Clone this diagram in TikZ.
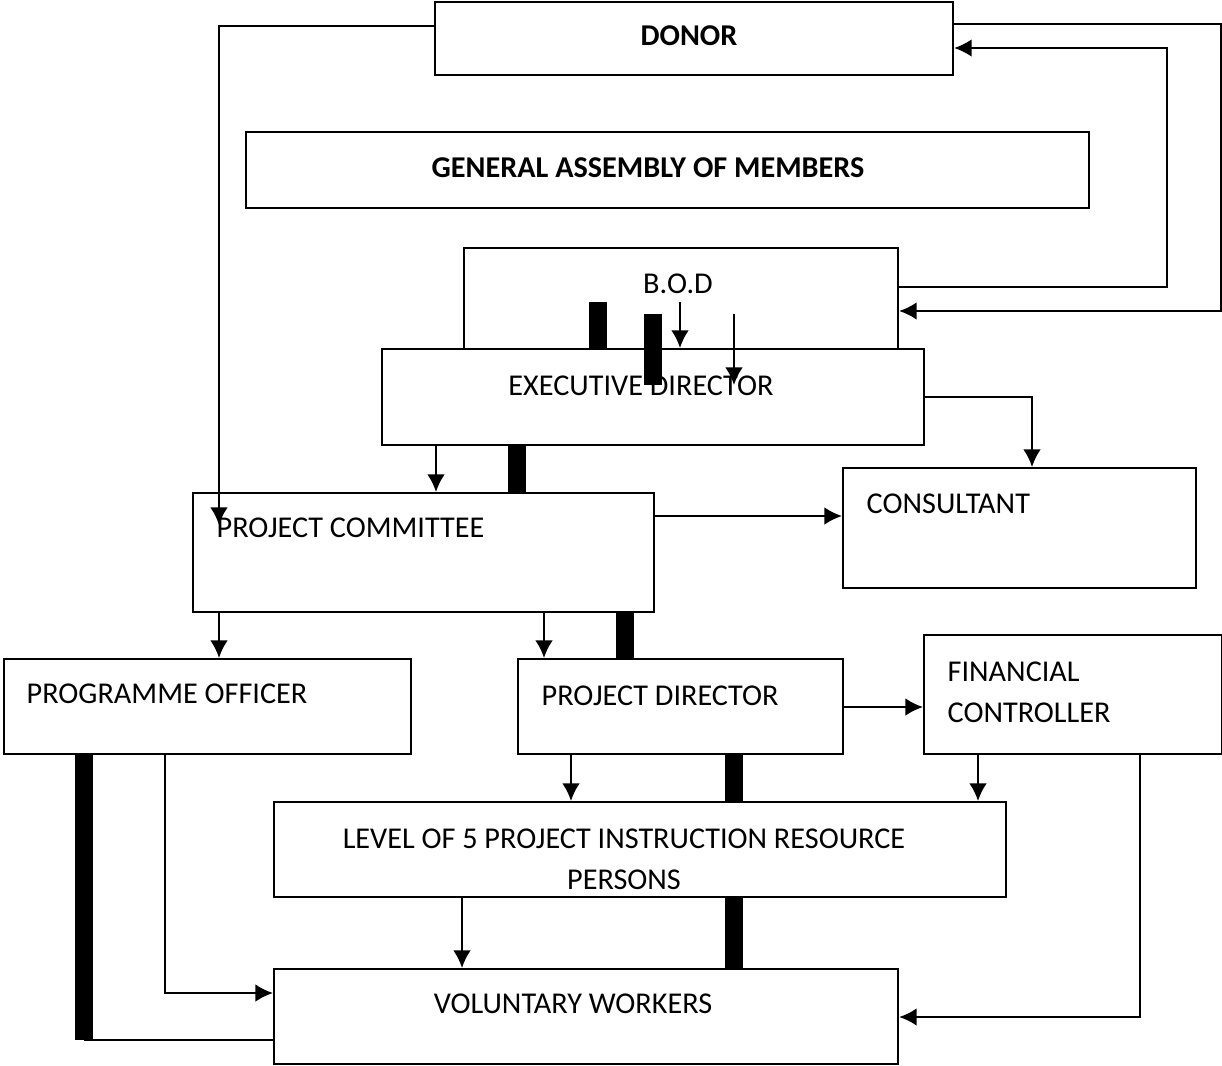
\documentclass[tikz,border=0pt]{standalone}
\usepackage{fontspec}
\setmainfont{Carlito}
\usetikzlibrary{arrows.meta}

\begin{document}
\begin{tikzpicture}[
  box/.style={rectangle,draw,line width=0.6pt,inner sep=0pt,anchor=north west},
  txt/.style={inner sep=0pt,font=\fontsize{8.6}{11.7}\selectfont},
  arr/.style={line width=0.6pt,-{Latex[length=5pt,width=5pt]}},
  ln/.style={line width=0.6pt},
  bar/.style={line width=0.18cm}]
\useasboundingbox (0,0) rectangle (12.22,-10.65);
% boxes
\path (4.34,-0.01) node(donor)[box,minimum width=5.18cm,minimum height=0.73cm]{}
(2.45,-1.31) node(gam)[box,minimum width=8.43cm,minimum height=0.76cm]{}
(4.63,-2.47) node(bod)[box,minimum width=4.34cm,minimum height=1.01cm]{}
(3.81,-3.48) node(exec)[box,minimum width=5.42cm,minimum height=0.96cm]{}
(8.42,-4.67) node(cons)[box,minimum width=3.53cm,minimum height=1.20cm]{}
(1.92,-4.92) node(pc)[box,minimum width=4.61cm,minimum height=1.19cm]{}
(0.03,-6.58) node(po)[box,minimum width=4.07cm,minimum height=0.95cm]{}
(5.17,-6.58) node(pd)[box,minimum width=3.25cm,minimum height=0.95cm]{}
(9.23,-6.34) node(fc)[box,minimum width=2.98cm,minimum height=1.19cm]{}
(2.73,-8.01) node(lev)[box,minimum width=7.32cm,minimum height=0.95cm]{}
(2.73,-9.68) node(vw)[box,minimum width=6.24cm,minimum height=0.95cm]{};
% texts
\path (6.89,-0.45) node(tdonor)[txt,anchor=base]{\bfseries DONOR}
(6.48,-1.77) node(tgam)[txt,anchor=base]{\bfseries GENERAL ASSEMBLY OF MEMBERS}
(6.78,-2.93) node(tbod)[txt,anchor=base]{B.O.D}
(6.41,-3.95) node(texec)[txt,anchor=base]{EXECUTIVE DIRECTOR}
(8.66,-5.13) node(tcons)[txt,anchor=base west]{CONSULTANT}
(2.16,-5.37) node(tpc)[txt,anchor=base west]{PROJECT COMMITTEE}
(0.26,-7.03) node(tpo)[txt,anchor=base west]{PROGRAMME OFFICER}
(5.41,-7.05) node(tpd)[txt,anchor=base west]{PROJECT DIRECTOR}
(9.47,-6.61) node(tfc)[txt,anchor=north west,align=left]{FINANCIAL\\CONTROLLER}
(6.24,-8.28) node(tlev)[txt,anchor=north,align=center]{LEVEL OF 5 PROJECT INSTRUCTION RESOURCE\\PERSONS}
(5.73,-10.13) node(tvw)[txt,anchor=base]{VOLUNTARY WORKERS};
% feedback loops round the donor
\coordinate (pcin) at (2.19,-5.25);
\draw[arr](donor.west |- 0,-0.26)-|(pcin);
\draw[arr](donor.east |- 0,-0.24)-|(12.21,-1)|-(bod.east |- 0,-3.11);
\draw[arr](bod.east |- 0,-2.87)-|(11.67,-1)|-(donor.east |- 0,-0.48);
% bod to executive director
\draw[bar](5.98,-3.02)--(exec.north -| 5.98,0);
\draw[bar](6.53,-3.14)--(6.53,-3.85);
\draw[arr](6.80,-3.02)--(exec.north -| 6.80,0);
\draw[arr](7.34,-3.14)--(7.34,-3.85);
% executive director
\draw[arr](exec.south -| 4.36,0)--(pc.north -| 4.36,0);
\draw[bar](exec.south -| 5.17,0)--(pc.north -| 5.17,0);
\draw[arr](exec.east |- 0,-3.97)-|(cons.north -| 10.32,0);
% project committee
\draw[arr](pc.east |- 0,-5.16)--(cons.west |- 0,-5.16);
\draw[arr](pc.south -| 2.19,0)--(po.north -| 2.19,0);
\draw[arr](pc.south -| 5.44,0)--(pd.north -| 5.44,0);
\draw[bar](pc.south -| 6.25,0)--(pd.north -| 6.25,0);
% project director and financial controller
\draw[arr](pd.east |- 0,-7.07)--(fc.west |- 0,-7.07);
\draw[arr](pd.south -| 5.71,0)--(lev.north -| 5.71,0);
\draw[bar](pd.south -| 7.34,0)--(lev.north -| 7.34,0);
\draw[arr](fc.south -| 9.78,0)--(lev.north -| 9.78,0);
\draw[arr](fc.south -| 11.40,0)|-(vw.east |- 0,-10.17);
% level of 5
\draw[arr](lev.south -| 4.62,0)--(vw.north -| 4.62,0);
\draw[bar](lev.south -| 7.34,0)--(vw.north -| 7.34,0);
% programme officer
\draw[arr](po.south -| 1.65,0)|-(vw.west |- 0,-9.93);
\draw[bar](po.south -| 0.84,0)--(0.84,-10.40);
\draw[ln](0.84,-10.40)--(vw.west |- 0,-10.40);
\end{tikzpicture}
\end{document}
